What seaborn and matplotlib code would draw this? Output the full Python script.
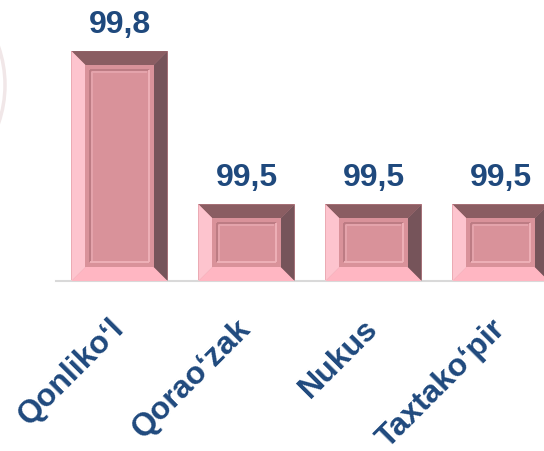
import matplotlib
matplotlib.use('Agg')
import matplotlib.pyplot as plt
from matplotlib.patches import Polygon, Arc
import seaborn as sns
import pandas as pd

# data
districts = ['Qonlikoʻl', 'Qoraoʻzak', 'Nukus', 'Taxtakoʻpir']
values = [99.8, 99.5, 99.5, 99.5]
value_labels = ['99,8', '99,5', '99,5', '99,5']

sns.set_theme(style='white')
plt.rcParams['font.family'] = ['Liberation Sans', 'DejaVu Sans']

text_blue = '#1F497D'
face = '#D9929A'

df = pd.DataFrame({'district': districts, 'value': values})

fig = plt.figure(figsize=(5.44, 4.51), dpi=100)
# axes run past the right edge, like the cut-off original
ax = fig.add_axes([56 / 544, 170 / 451, 508 / 544, 281 / 451])
sns.barplot(data=df, x='district', y='value', color=face, saturation=1,
            width=0.756, linewidth=0, ax=ax)
ax.set_xlim(-0.5, 3.5)
ax.set_ylim(99.35, 99.90)

# axis styling: only the bottom line, ticks between categories
for s in ['left', 'right', 'top']:
    ax.spines[s].set_visible(False)
ax.spines['bottom'].set_color('#D9D9D9')
ax.spines['bottom'].set_linewidth(1.5)
ax.set_yticks([])
ax.set_xlabel('')
ax.set_ylabel('')
ax.set_xticks([i - 0.5 for i in range(len(districts) + 1)], minor=True)
ax.tick_params(axis='x', which='minor', length=8, width=1.5, color='#D9D9D9', direction='out')
ax.tick_params(axis='x', which='major', length=0, pad=31)
ax.set_xticks(range(len(districts)))
ax.set_xticklabels(districts, rotation=45, ha='right', va='center',
                   rotation_mode='anchor', fontsize=23, fontweight='bold', color=text_blue)

# bevelled look built on top of the seaborn bars
inv = ax.transData.inverted()
b = 14  # bevel in pixels
ybase = ax.get_ylim()[0]


def poly(pts, color, z=3):
    ax.add_patch(Polygon(inv.transform(pts), closed=True, facecolor=color,
                         edgecolor='none', zorder=z))


def seg(p, q, color):
    (x0, y0), (x1, y1) = inv.transform([p, q])
    ax.plot([x0, x1], [y0, y1], color=color, lw=1.3, zorder=4, solid_capstyle='butt')


for bar in ax.patches[:len(values)]:
    x0 = bar.get_x()
    x1 = x0 + bar.get_width()
    top = bar.get_height()
    px0, py0 = ax.transData.transform((x0, ybase))
    px1, py1 = ax.transData.transform((x1, top))

    ix0, iy0, ix1, iy1 = px0 + b, py0 + b, px1 - b, py1 - b
    poly([(px0, py1), (px1, py1), (ix1, iy1), (ix0, iy1)], '#8A5D62')   # top
    poly([(px1, py1), (px1, py0), (ix1, iy0), (ix1, iy1)], '#76545A')   # right
    poly([(px0, py0), (px1, py0), (ix1, iy0), (ix0, iy0)], '#FFB6C2')   # bottom
    poly([(px0, py0), (px0, py1), (ix0, iy1), (ix0, iy0)], '#FDC4CE')   # left
    poly([(ix0, iy0), (ix1, iy0), (ix1, iy1), (ix0, iy1)], face)        # face

    # embossed inner frame: dark top/left, light bottom/right
    o = 5
    fx0, fy0, fx1, fy1 = ix0 + o, iy0 + o, ix1 - o, iy1 - o
    seg((fx0, fy1), (fx1, fy1), '#BA7A82')
    seg((fx0, fy0), (fx0, fy1), '#BA7A82')
    seg((fx0 + 1.5, fy1 - 1.5), (fx1 - 1.5, fy1 - 1.5), '#E6A5AD')
    seg((fx0 + 1.5, fy0 + 1.5), (fx0 + 1.5, fy1 - 1.5), '#E6A5AD')
    seg((fx0, fy0), (fx1, fy0), '#F0B3BA')
    seg((fx1, fy0), (fx1, fy1), '#F0B3BA')

# value labels
for i, (v, lab) in enumerate(zip(values, value_labels)):
    ax.annotate(lab, (i, v), xytext=(0, 13), textcoords='offset points',
                ha='center', va='baseline', fontsize=23, fontweight='bold',
                color=text_blue, annotation_clip=False)

# faint decorative arc on the left edge
fig.patches.append(Arc((-80 / 544, 1 - 85 / 451), 170 / 544, 200 / 451,
                       transform=fig.transFigure, color='#F1E7E8', lw=2.5))

fig.savefig('out.png', dpi=100)
